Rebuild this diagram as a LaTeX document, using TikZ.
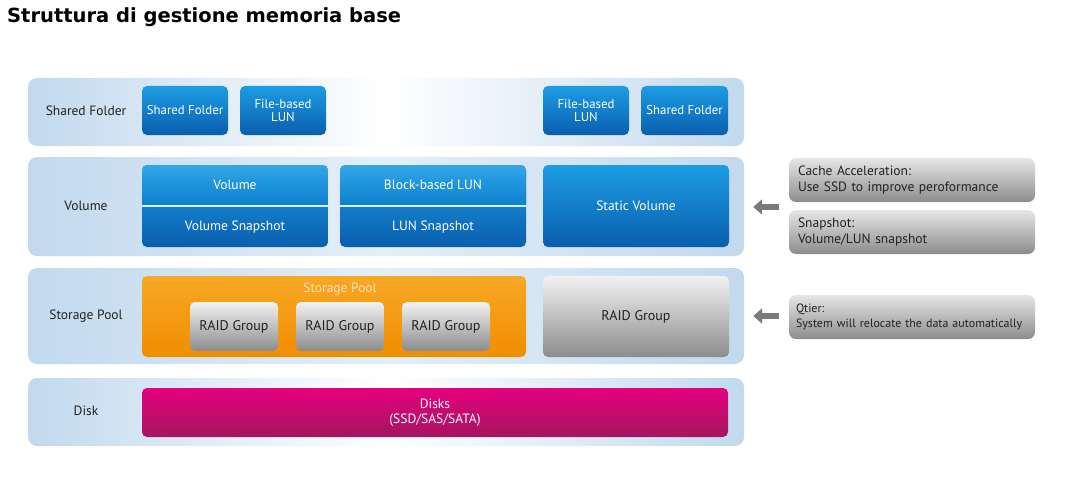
\documentclass[tikz,border=0pt]{standalone}
\usepackage{fontspec}
\setmainfont{PT Sans}
\newfontfamily\titlefont{DejaVu Sans}
\usetikzlibrary{arrows.meta}
\definecolor{bandblue}{HTML}{C2D9EE}
\definecolor{bandlight}{HTML}{E4EFF8}
\definecolor{bluetop}{HTML}{1C9DE3}
\definecolor{bluebot}{HTML}{0A5EAE}
\definecolor{bluemid}{HTML}{0C80CF}
\definecolor{orangetop}{HTML}{F8A825}
\definecolor{orangebot}{HTML}{F08E00}
\definecolor{graytop}{HTML}{F2F2F2}
\definecolor{graybot}{HTML}{8C8C8C}
\definecolor{pinktop}{HTML}{E6007E}
\definecolor{pinkbot}{HTML}{A3165E}
\definecolor{arrowgray}{HTML}{7A7A7A}
\definecolor{labeltext}{HTML}{222222}
\begin{document}
\begin{tikzpicture}[x=1pt,y=-1pt,
  band/.style={rounded corners=9pt, inner sep=0pt, left color=bandblue, right color=bandblue},
  rowlabel/.style={font=\fontsize{13.5}{15}\selectfont, text=labeltext},
  bluebox/.style={rounded corners=5pt, inner sep=0pt, top color=bluetop, bottom color=bluebot, text=white, font=\fontsize{12.8}{13.5}\selectfont, align=center},
  bluehalf/.style={inner sep=0pt, text=white, font=\fontsize{13.5}{15}\selectfont},
  orangebox/.style={rounded corners=5pt, inner sep=0pt, top color=orangetop, bottom color=orangebot},
  graybox/.style={rounded corners=5pt, inner sep=0pt, top color=graytop, bottom color=graybot, text=labeltext, font=\fontsize{14}{16}\selectfont},
  pinkbox/.style={rounded corners=5pt, inner sep=0pt, top color=pinktop, bottom color=pinkbot, text=white, font=\fontsize{13.5}{15}\selectfont, align=center},
  notebox/.style={rounded corners=7pt, inner sep=0pt, top color=graytop!90!gray, bottom color=graybot, text=labeltext, font=\fontsize{13.5}{15.5}\selectfont, align=left, text width=228pt, minimum width=246pt, minimum height=44pt},
  bigarrow/.style={draw=arrowgray, line width=6pt, -{Triangle[width=15pt,length=9pt]}}
]
\useasboundingbox (0,0) rectangle (1069,487);
\fill[white] (0,0) rectangle (1069,487);

% title
\node[anchor=base west, inner sep=0pt, font=\titlefont\bfseries\fontsize{19.5}{22}\selectfont] (title) at (7,23) {Struttura di gestione memoria base};

% bands
\node[band, middle color=white, minimum width=716pt, minimum height=68pt] (b1) at (386,112) {};
\node[band, middle color=bandlight, minimum width=716pt, minimum height=99pt] (b2) at (386,206.5) {};
\node[band, middle color=bandlight, minimum width=716pt, minimum height=96pt] (b3) at (386,316) {};
\node[band, middle color=white, minimum width=716pt, minimum height=68pt] (b4) at (386,412) {};

% row labels
\node[rowlabel] (l1) at (86,111) {Shared Folder};
\node[rowlabel] (l2) at (86,206) {Volume};
\node[rowlabel] (l3) at (86,316) {Storage Pool};
\node[rowlabel] (l4) at (86,411) {Disk};

% row 1
\node[bluebox, minimum width=86pt, minimum height=49pt] (sf1) at (185,110.5) {Shared Folder};
\node[bluebox, minimum width=86pt, minimum height=49pt] (fl1) at (283,110.5) {File-based\\LUN};
\node[bluebox, minimum width=86pt, minimum height=49pt] (fl2) at (586,110.5) {File-based\\LUN};
\node[bluebox, minimum width=87pt, minimum height=49pt] (sf2) at (684.5,110.5) {Shared Folder};

% row 2
\node[bluebox, minimum width=186pt, minimum height=82pt] (vol) at (235,206) {};
\shade[top color=bluetop!90!white, bottom color=bluemid, rounded corners=5pt]
  (142,165) -- (328,165) -- (328,205) [sharp corners] -- (328,205) -- (142,205) [rounded corners=5pt] -- cycle;
\draw[white!85!bluetop, line width=1.5pt] (142,206) -- (328,206);
\node[bluehalf] (volt) at (235,185) {Volume};
\node[bluehalf] (volb) at (235,227) {Volume Snapshot};

\node[bluebox, minimum width=186pt, minimum height=82pt] (blun) at (433,206) {};
\shade[top color=bluetop!90!white, bottom color=bluemid, rounded corners=5pt]
  (340,165) -- (526,165) -- (526,205) [sharp corners] -- (526,205) -- (340,205) [rounded corners=5pt] -- cycle;
\draw[white!85!bluetop, line width=1.5pt] (340,206) -- (526,206);
\node[bluehalf] (blunt) at (433,185) {Block-based LUN};
\node[bluehalf] (blunb) at (433,227) {LUN Snapshot};

\node[bluebox, font=\fontsize{13.5}{15}\selectfont, minimum width=186pt, minimum height=82pt] (svol) at (636,206) {Static Volume};

% row 3
\node[orangebox, minimum width=384pt, minimum height=81pt] (pool) at (334,316.5) {};
\node[inner sep=0pt, text=orange!25!white, font=\fontsize{13.5}{15}\selectfont] (poolt) at (340,289) {Storage Pool};
\node[graybox, minimum width=88pt, minimum height=49pt] (r1) at (234,326.5) {RAID Group};
\node[graybox, minimum width=88pt, minimum height=49pt] (r2) at (340,326.5) {RAID Group};
\node[graybox, minimum width=88pt, minimum height=49pt] (r3) at (446,326.5) {RAID Group};
\node[graybox, minimum width=186pt, minimum height=81pt] (r4) at (636,316.5) {RAID Group};

% row 4
\node[pinkbox, minimum width=586pt, minimum height=49pt] (disks) at (435,412.5) {Disks\\(SSD/SAS/SATA)};

% notes
\node[notebox] (cache) at (912,180) {Cache Acceleration:\\Use SSD to improve peroformance};
\node[notebox] (snap) at (912,232) {Snapshot:\\Volume/LUN snapshot};
\node[notebox, text width=232pt, font=\fontsize{12}{14.5}\selectfont] (qtier) at (912,317) {Qtier:\\System will relocate the data automatically};

% arrows
\coordinate (a1) at (cache.west |- 0,207);
\coordinate (a2) at (qtier.west |- 0,316);
\draw[bigarrow, shorten <=10pt, shorten >=9pt] (a1) -- (b2.east |- a1);
\draw[bigarrow, shorten <=10pt, shorten >=9pt] (a2) -- (b3.east |- a2);
\end{tikzpicture}
\end{document}
